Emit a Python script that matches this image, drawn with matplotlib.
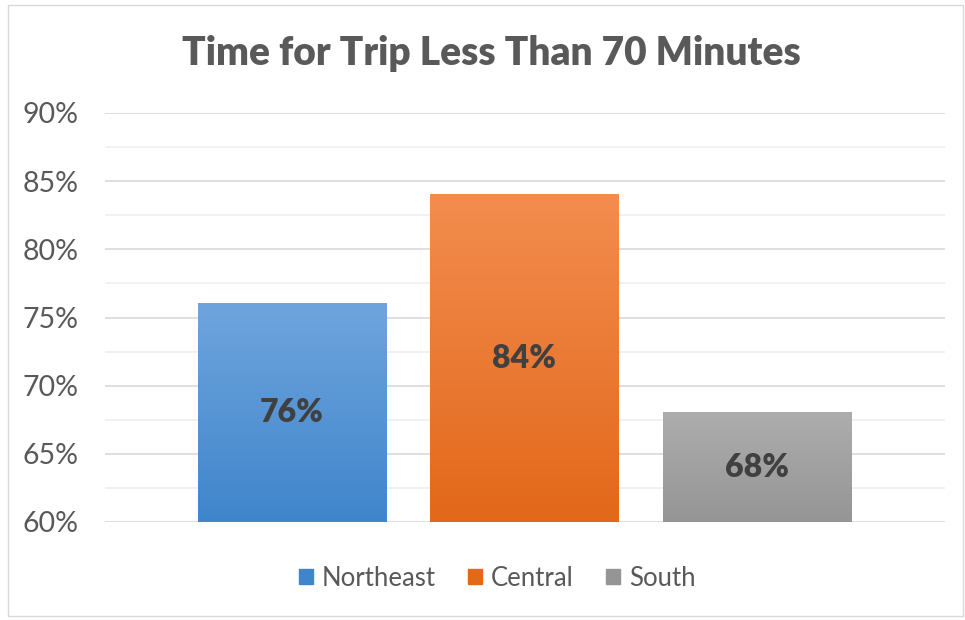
import matplotlib.pyplot as plt
import numpy as np
from matplotlib.colors import LinearSegmentedColormap
from matplotlib.patches import Rectangle
from matplotlib.ticker import MultipleLocator, FuncFormatter

regions = ["Northeast", "Central", "South"]
shares = [0.76, 0.84, 0.68]
top_colors = ["#6fa5de", "#f38d4f", "#adadad"]
bottom_colors = ["#3f85cb", "#e2681a", "#959595"]
title = "Time for Trip Less Than 70 Minutes"

plt.rcParams['font.family'] = ['Lato', 'DejaVu Sans']

fig = plt.figure(figsize=(9.65, 6.2), dpi=100)
ax = fig.add_axes([105 / 965, 1 - 522 / 620, 840 / 965, 409 / 620])

x = np.arange(len(regions))
bars = ax.bar(x, shares, width=0.81, color=bottom_colors, zorder=3)

ax.set_ylim(0.60, 0.90)
ax.set_xlim(-0.804, 2.809)
ymin = ax.get_ylim()[0]

# vertical gradient inside each bar
for bar, c_top, c_bot, v in zip(bars, top_colors, bottom_colors, shares):
    cmap = LinearSegmentedColormap.from_list("g", [c_bot, c_top])
    grad = np.linspace(0, 1, 256).reshape(-1, 1)
    x0 = bar.get_x()
    ax.imshow(grad, cmap=cmap, aspect="auto", origin="lower",
              extent=(x0, x0 + bar.get_width(), ymin, v), zorder=4)
    ax.text(bar.get_x() + bar.get_width() / 2, (ymin + v) / 2, f"{v:.0%}",
            ha="center", va="center", fontsize=23, fontweight="heavy",
            color="#404040", zorder=5)

ax.yaxis.set_major_locator(MultipleLocator(0.05))
ax.yaxis.set_minor_locator(MultipleLocator(0.025))
ax.yaxis.set_major_formatter(FuncFormatter(lambda v, p: f"{v:.0%}"))
ax.grid(axis="y", which="major", color="#d9d9d9", linewidth=1.2, zorder=0)
ax.grid(axis="y", which="minor", color="#efefef", linewidth=1.2, zorder=0)
ax.tick_params(axis="y", which="both", length=0, labelsize=20.5,
               labelcolor="#595959", pad=19)
ax.set_xticks([])
for s in ax.spines.values():
    s.set_visible(False)

fig.text(491 / 965, 1 - 53 / 620, title, ha="center", va="center",
         fontsize=28, fontweight="heavy", color="#595959")

handles = [Rectangle((0, 0), 1, 1, color=c) for c in bottom_colors]
fig.legend(handles, regions, loc="center", bbox_to_anchor=(497 / 965, 1 - 578 / 620),
           ncol=3, frameon=False, fontsize=18.5, handlelength=0.55,
           handleheight=0.55, handletextpad=0.35, columnspacing=1.25,
           labelcolor="#595959")

fig.patches.append(Rectangle((8 / 965, 4 / 620), 955 / 965, 611 / 620,
                             transform=fig.transFigure, fill=False,
                             edgecolor="#d9d9d9", linewidth=1))

fig.savefig("out.png", dpi=100)
